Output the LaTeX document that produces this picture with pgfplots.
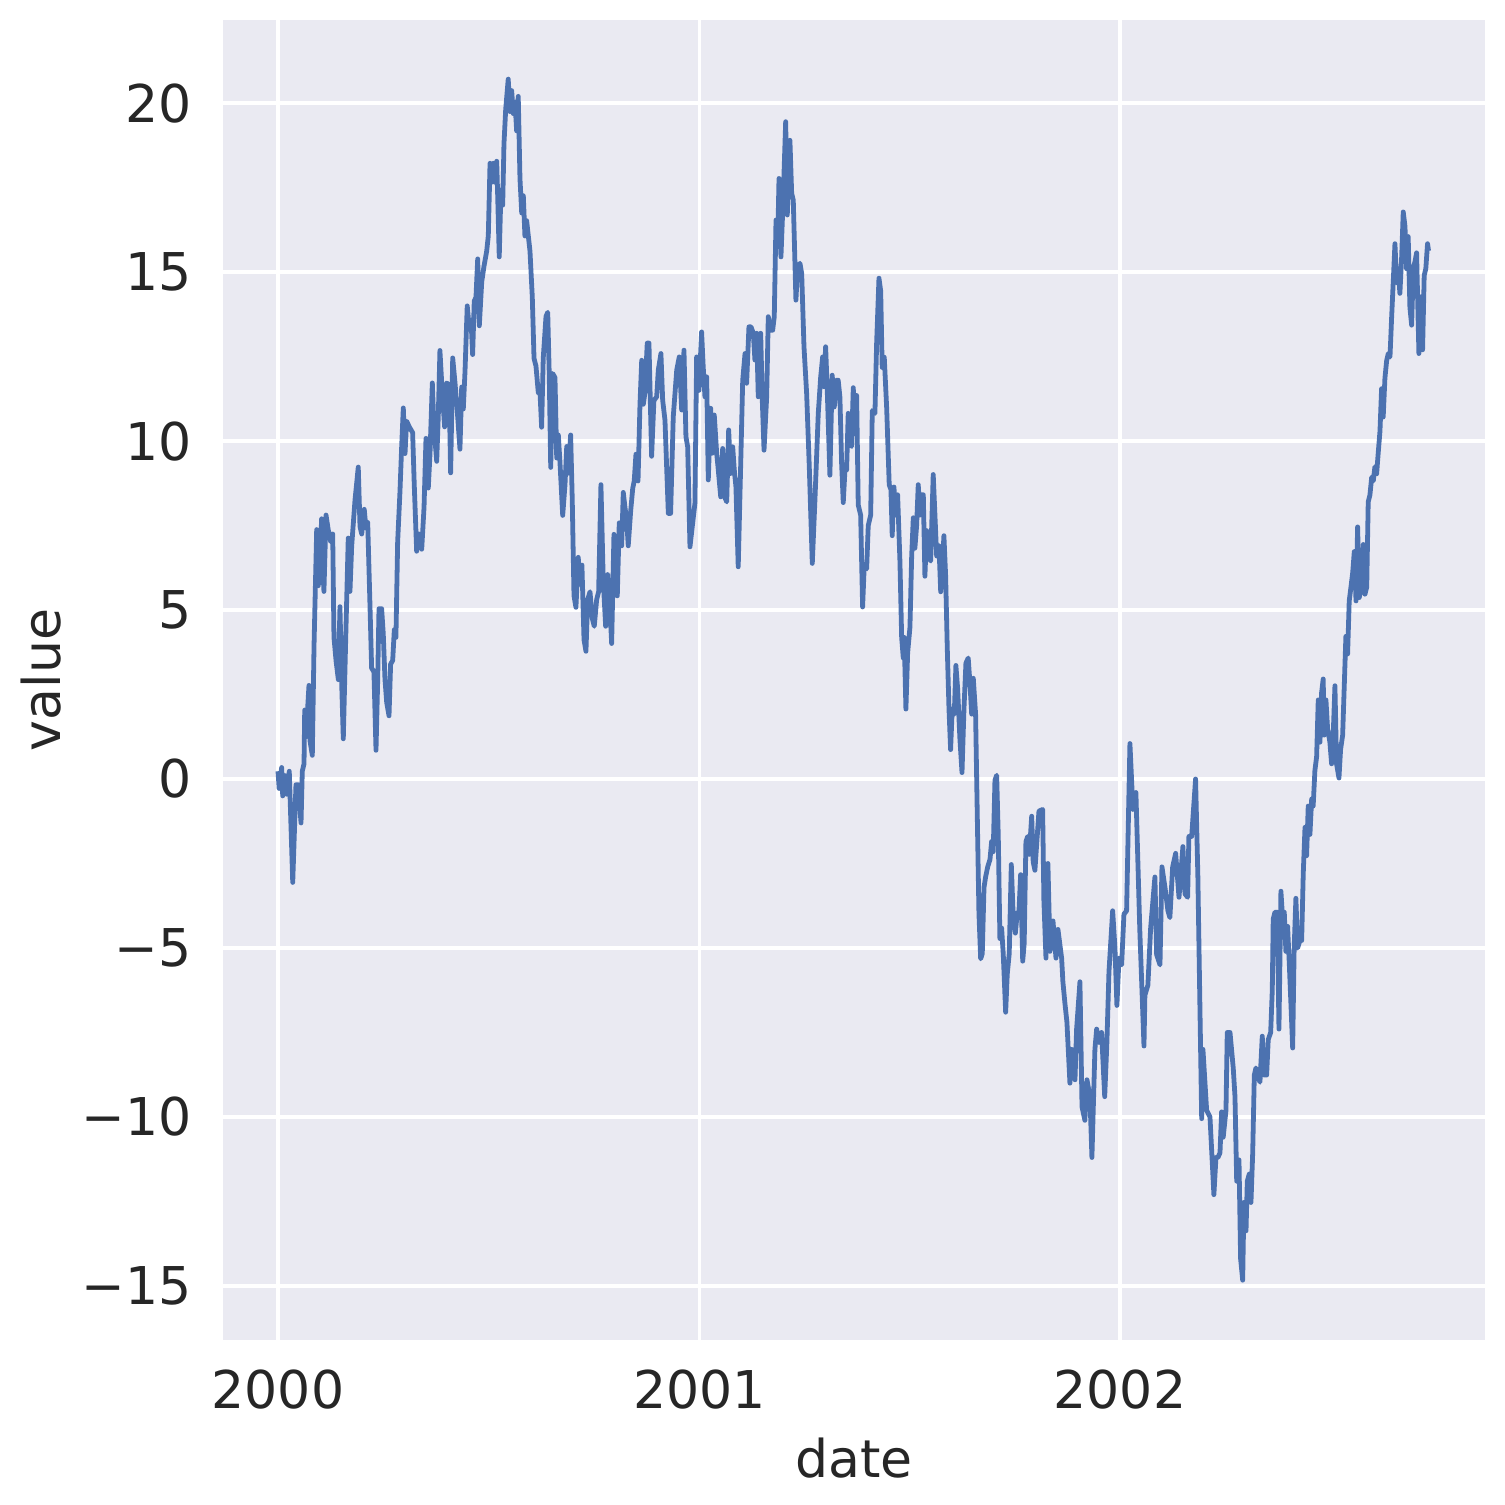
\documentclass[border=0pt]{standalone}
\usepackage{fontspec}
\setmainfont{DejaVu Sans}
\usepackage{pgfplots}
\usepackage{pgfplotstable}
\pgfplotsset{compat=1.18}
\definecolor{bgc}{HTML}{EAEAF2}
\definecolor{linec}{HTML}{4C72B0}
\definecolor{txt}{HTML}{262626}
\pgfplotstableread{
day value
0 0.23
1 -0.28
3.2 0.34
4.1 -0.5
6.1 0.1
7.6 -0.45
9.8 0.23
12.8 -3.06
15.6 -0.17
17.6 -0.17
20 -1.3
21.1 0.23
22.6 0.45
23.2 2.04
24.3 1.25
26.9 2.77
27.8 1.13
29.8 0.7
31.3 3.96
33.6 7.38
35 5.72
36.5 6.57
37.9 7.7
38.8 6.34
39.9 5.55
41.7 7.81
43.7 7.36
45.8 7.02
47.5 7.25
48.6 4.19
50.4 3.5
52.4 2.94
53.8 5.1
55.3 2.83
56.7 1.19
59 4.42
61 7.13
62.5 5.55
64 6.9
66.9 8.27
69.7 9.23
71.2 7.47
72.7 7.25
74.9 7.98
76.4 7.42
77.9 7.59
79.9 5.1
81.3 3.28
83.3 3.17
85.1 0.85
86.5 2.83
87.7 5.04
90 5.04
91.4 4.3
92.9 2.94
94.4 2.26
96.4 1.87
97.8 3.4
99.6 3.51
101 4.42
102.4 4.19
103.9 7.02
105.9 8.5
107.4 9.85
108.8 10.98
110.3 9.63
111.7 10.59
114 10.42
116.9 10.25
118.3 8.72
120.4 6.74
122.4 7.25
124.8 6.8
126.8 8.04
128.5 10.08
130.5 8.61
132 9.63
134 11.72
135.4 10.42
137.8 9.4
139.2 10.76
140.6 12.68
142.6 11.44
144.7 10.42
146.5 11.72
148.5 11.66
149.9 9.06
151.7 12.46
153.7 11.72
155.7 10.87
158 9.76
159.5 11.6
160.9 10.95
162.4 12.08
164.3 14.0
166.1 13.35
167.6 13.58
169 12.56
170.4 14.14
171.9 14.26
173.4 15.39
174.8 13.41
176.9 14.71
178.8 15.16
181.2 15.62
182.6 16.07
184.1 18.22
185.6 17.66
186.9 18.22
188.4 17.66
189.9 18.28
190.7 17.32
192.1 15.45
193.6 17.43
195.1 16.98
196.2 18.79
197.7 19.81
199.9 20.71
201.4 19.75
202.9 20.37
204.3 19.69
205.8 20.03
207.2 19.18
208.6 20.2
210.1 17.77
211.6 16.75
213 17.26
214.4 16.07
215.9 16.52
218.8 15.62
220.8 14.26
222.3 12.45
224 12.22
226 11.43
227.5 11.43
228.9 10.41
230.3 12.45
232.7 13.69
234.2 13.81
235.5 12.0
236.8 9.22
238.5 12.0
240.5 11.88
242 9.5
243.4 10.18
244.8 9.39
247.2 7.8
249.2 8.71
250.7 9.84
252 9.05
254.1 10.18
255.5 8.26
257 5.42
258.7 5.08
260.7 6.56
262.2 5.76
263.9 6.33
265.7 4.12
267.4 3.78
268.9 5.31
270.9 5.54
272.9 4.75
274.6 4.52
276.7 5.31
278.4 5.54
280.4 8.71
282.4 5.88
284.5 4.52
286.2 6.05
288.2 5.08
289.7 4.01
291.7 7.24
293.2 6.22
294.6 5.42
296.3 7.58
298.4 6.9
299.8 8.48
301.3 8.03
302.7 7.69
304.1 6.9
306.2 7.92
308 8.6
309.3 8.82
310.8 9.61
312.6 8.82
314.3 11.09
315.8 12.39
317.2 11.09
318.6 11.43
320.6 12.9
322.1 12.9
324.4 9.55
326.4 11.2
328.8 11.31
330.2 12.1
332.5 12.59
334 11.21
336 10.62
338.9 7.86
340.9 7.86
343.2 10.72
346.2 12.1
348.4 12.49
350.5 10.92
352.5 12.69
354.2 10.13
355.7 9.83
357.7 6.87
360 7.56
362 8.16
363.5 12.49
365.5 11.5
367.8 13.23
369.2 12.2
370.7 11.31
372.2 11.9
373.6 8.85
375.7 10.97
377 9.64
378.8 10.77
380.9 9.64
382.3 9.14
384.4 8.35
386.1 9.78
387.8 8.35
389.6 8.2
391.3 10.33
393 9.04
394.8 9.83
396.2 9.14
397.6 8.65
399.6 6.28
401.7 9.24
403.5 11.8
405.5 12.59
406.9 11.71
408.9 13.38
410.7 13.38
412.7 13.19
414.1 12.4
415.6 13.19
417 11.31
419.1 13.19
420.5 11.21
422 9.73
424.3 11.31
425.7 13.68
427.8 13.28
429.5 13.28
430.9 13.68
432.4 16.54
433.8 15.75
435 17.77
436.7 15.45
438.7 17.23
440.8 19.45
442.2 16.69
444.5 18.9
446 17.33
447.4 17.13
449.7 14.17
451.2 15.16
453.2 15.26
454.7 14.96
456.7 12.79
459 11.41
461.3 9.24
463.9 6.38
466.2 8.25
469.1 10.82
471.2 11.9
472.9 12.49
474 11.61
475.5 12.79
476.9 11.5
479.2 8.99
481.2 11.95
483 11.01
485 11.8
486.4 11.8
487.9 11.3
489.4 9.31
490.8 8.18
492.3 9.16
493.7 9.14
495.1 10.82
496.6 9.92
498 9.84
499.5 11.58
500.9 10.22
502.4 11.35
503.8 8.11
505.9 7.81
507.6 5.09
509 6.3
511.1 6.22
512.5 7.5
514.6 7.81
516 10.9
518.3 10.82
519.8 12.93
521.8 14.82
523.3 14.44
524.6 12.18
526.4 12.48
528.5 10.97
530.7 8.71
532.2 8.56
533.3 7.2
534.8 8.64
536.5 7.81
538 8.41
540 6.45
541.5 4.19
542.9 3.58
543.7 4.19
545.2 2.07
546.7 3.73
548.7 4.49
550.2 6.6
551.6 7.73
553 6.83
554.5 7.5
555.9 8.71
557.4 7.81
558.9 8.41
560.3 8.41
561.7 6.0
563.2 7.35
564.6 6.6
566.7 6.45
568.9 9.01
570.4 7.81
571.9 6.6
573.9 6.9
575.4 5.54
576.8 6.3
578.2 7.2
579.7 6.0
581.1 3.88
582.6 2.07
584 0.87
585.4 2.07
587.2 1.92
588.6 3.36
590.1 2.68
592.1 1.17
593.9 0.19
595.6 2.07
597.3 3.43
599.3 3.58
600.8 2.83
602.3 1.92
603.7 2.98
605.7 1.92
607.1 -0.95
608.6 -3.97
610.1 -5.32
611.5 -5.17
613 -3.21
614.4 -2.9
616.2 -2.6
618.2 -2.38
619.6 -1.85
621 -2.15
622.5 -0.04
624 0.11
625.4 -1.7
626.8 -4.72
628.3 -4.41
629.7 -5.17
631.8 -6.9
633.2 -5.77
634.9 -5.17
636.7 -2.53
638.4 -4.11
640.2 -4.56
641.9 -3.96
643.3 -3.96
644.8 -2.83
646.6 -5.39
647.9 -4.86
649.4 -1.85
650.9 -1.7
652.3 -2.23
654.4 -1.1
655.7 -2.45
657.2 -2.7
660.7 -0.95
663.9 -0.9
665 -3.6
666.8 -5.3
668.5 -2.5
670.3 -5.1
672.9 -4.2
675.5 -5.3
677.2 -4.45
680.4 -5.3
681.5 -6.0
683.3 -6.65
685 -7.2
687.6 -9.0
689.1 -8.0
692 -8.9
693.4 -7.4
696.3 -6.0
698.1 -9.7
700.6 -10.1
702.4 -8.9
705 -9.4
706.7 -11.2
709.3 -8.0
710.8 -7.4
712.8 -7.8
715.1 -7.5
717.8 -9.4
719.7 -7.8
721.5 -5.7
724.7 -3.9
726.7 -5.0
728.4 -6.7
730.2 -5.3
732.5 -5.5
734.5 -4.0
736.8 -3.9
739.7 1.05
742.3 -0.9
744.9 -0.4
748.3 -4.5
751.9 -7.9
752.7 -6.4
755.3 -6.1
757.7 -4.4
761.4 -2.9
762.9 -5.2
765.8 -5.5
767.5 -2.6
770.1 -3.2
772.7 -3.9
774.4 -4.1
776.8 -2.6
779.4 -2.2
782.3 -3.5
785.7 -2.0
787.5 -3.4
789.8 -3.5
790.9 -1.7
793.3 -1.7
796.7 0.0
798.7 -2.9
802 -10.05
803.1 -8.0
806.3 -9.8
809.2 -10.0
812.6 -12.3
814.4 -11.2
816.1 -11.2
817.9 -11.06
819.3 -9.85
820.7 -10.6
823.1 -9.8
824.2 -7.5
826.6 -7.5
828 -8.03
829.4 -8.55
830.9 -9.39
832.4 -11.9
834.4 -11.27
835.8 -14.2
837.6 -14.83
838.7 -12.53
840.5 -13.37
841.6 -11.9
843.3 -11.69
844.8 -12.53
846.3 -11.06
847.7 -8.76
849.1 -8.55
850.6 -8.76
852.6 -8.97
854.6 -7.61
856.3 -8.76
858.4 -8.76
859.8 -7.71
861.9 -7.5
863.3 -6.25
864.1 -4.15
865.6 -3.94
867.6 -3.94
869.1 -7.4
870.8 -3.32
872.3 -4.15
873.7 -3.94
875.1 -5.1
876.6 -4.36
878 -5.41
879.5 -6.67
881 -7.96
882.3 -5.0
883.8 -3.53
885.3 -5.0
887.3 -4.78
888.8 -4.78
890.2 -2.79
891.7 -1.43
893.1 -2.27
894.5 -0.8
896 -1.64
897.5 -0.59
898.8 -0.8
900.3 0.25
901.8 0.66
903.2 2.34
904.7 1.09
906.1 2.55
907.5 2.96
908.4 1.3
909.9 2.34
911.3 1.5
913.3 1.09
914.8 0.45
916.2 1.3
917.7 2.76
919.1 0.45
921.2 0.03
922.6 0.87
924.4 1.3
925.8 2.76
927.2 4.22
928.7 3.7
930.1 5.27
931.6 5.68
933.1 6.1
934.5 6.73
936 5.27
937.4 7.46
938.8 5.37
940.9 5.68
942.3 6.94
943.8 5.47
945.3 5.68
946.6 8.2
948.1 8.41
949.6 8.93
951 8.82
952.4 9.24
953.9 9.03
955.3 9.66
956.8 10.29
958.2 11.55
959.6 10.71
961.1 11.86
962.6 12.38
964 12.59
965.5 12.49
966.9 13.64
968.3 14.69
969.8 15.84
971.3 14.69
972.6 15.1
974.1 14.37
975.6 15.42
977 16.78
978.5 16.36
979.9 15.1
981.3 16.05
982.8 13.95
984.3 13.43
985.7 15.1
987.2 15.31
988.6 15.57
990.6 12.59
992.4 14.27
993.8 12.7
995.2 14.9
996.6 15.1
998.1 15.84
999 15.63
}\walk
\begin{document}
\fontsize{12.5bp}{15bp}\selectfont
\begin{tikzpicture}
\begin{axis}[
  scale only axis,
  width=302.88bp, height=316.8bp,
  xmin=-47.75, xmax=1048,
  ymin=-16.6, ymax=22.46,
  axis background/.style={fill=bgc},
  axis line style={draw=none},
  major tick length=0pt,
  tick style={draw=none},
  grid=major,
  major grid style={white, line width=0.8bp},
  xtick={0,366,731},
  xticklabels={2000,2001,2002},
  ytick={-15,-10,-5,0,5,10,15,20},
  yticklabels={−15,−10,−5,0,5,10,15,20},
  every tick label/.append style={inner sep=0pt, text=txt, font=\fontsize{12.5bp}{15bp}\selectfont},
  xticklabel shift=7bp,
  yticklabel shift=7.4bp,
  xlabel={date}, ylabel={value},
  xlabel style={at={(axis description cs:0.5,-0.0735)}, anchor=north, inner sep=0pt, text=txt, font=\fontsize{12.5bp}{15bp}\selectfont},
  ylabel style={at={(axis description cs:-0.1274,0.5)}, anchor=south, inner sep=0pt, rotate=0, text=txt, font=\fontsize{12.5bp}{15bp}\selectfont},
  clip=false,
]
\addplot[color=linec, line width=1.15bp, line join=round, no markers] table[x=day, y=value] {\walk};
\end{axis}
\path (current axis.south west) ++(-53.52bp,-39.6bp) rectangle ++(361.2bp,361.2bp);
\end{tikzpicture}
\end{document}
